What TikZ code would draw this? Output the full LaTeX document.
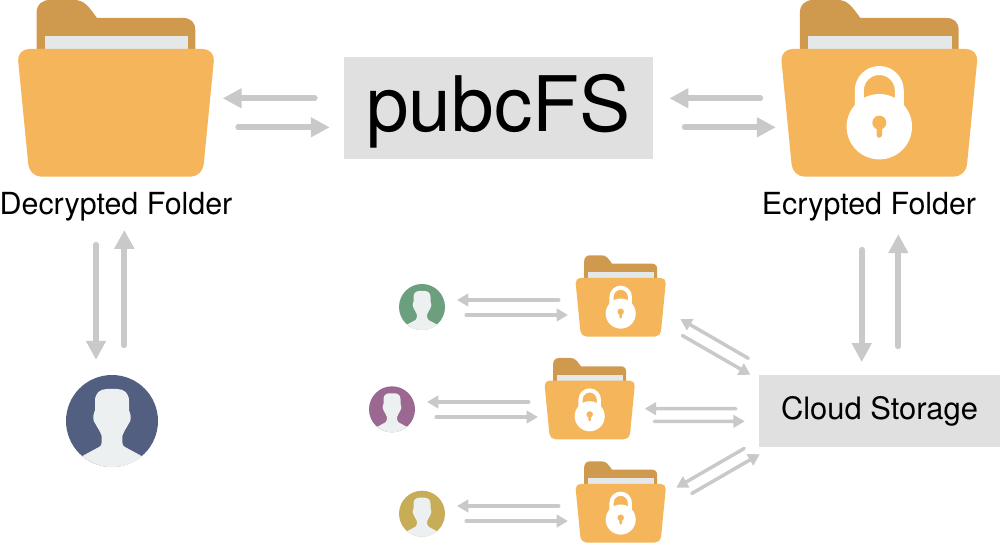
\documentclass[tikz,border=0pt]{standalone}
\usepackage{fontspec}
\setmainfont{TeX Gyre Heros}
\usetikzlibrary{arrows.meta}

\definecolor{foldertab}{HTML}{D09A4E}
\definecolor{folderfront}{HTML}{F5B55B}
\definecolor{paper}{HTML}{E4E8E9}
\definecolor{flowgrey}{HTML}{C9C9C9}
\definecolor{boxgrey}{HTML}{E0E0E0}
\definecolor{skin}{HTML}{ECF0F1}
\definecolor{userblue}{HTML}{535F80}
\definecolor{usergreen}{HTML}{6B9F7E}
\definecolor{userpurple}{HTML}{9A6890}
\definecolor{usergold}{HTML}{C8AD58}

\tikzset{
    bigflow/.style={flowgrey, line width=5.7pt, line cap=round, -{Triangle[length=19pt,width=19pt]}},
    smallflow/.style={flowgrey, line width=3.5pt, line cap=round, -{Triangle[length=11.5pt,width=12.5pt]}},
    greybox/.style={fill=boxgrey, inner sep=0pt},
    caption/.style={inner sep=0pt, anchor=base, font=\fontsize{30.4}{36}\selectfont}
}

\newcommand{\folder}[4]{
    \node[inner sep=0pt, minimum width=#4*196pt, minimum height=#4*177pt] (#1) at (#2,#3) {};
    \begin{scope}[shift={(#2,#3)}, scale=#4]
        \fill[foldertab] (-79.5,-30) -- (-79.5,75) .. controls (-79.5,84) and (-74,88.5) .. (-66,88.5) -- (-42,88.5)
            .. controls (-32,88.5) and (-28,83) .. (-19,70.5) -- (67,70.5) .. controls (75,70.5) and (79.3,66) .. (79.3,58.5) -- (79.3,-30) -- cycle;
        \fill[paper] (-71,52.5) rectangle (72.3,30);
        \fill[folderfront, rounded corners=#4*12pt] (-99,39.5) -- (99,39.5) -- (86.5,-88.2) -- (-86.5,-88.2) -- cycle;
    \end{scope}
}

\newcommand{\lock}[3]{
    \begin{scope}[shift={(#1,#2)}, scale=#3]
        \fill[white] (-24.5,-25) -- (-24.5,-2) arc[start angle=180,end angle=0,radius=24.5] -- (24.5,-25) -- (15.5,-25) -- (15.5,-2) arc[start angle=0,end angle=180,radius=15.5] -- (-15.5,-25) -- cycle;
        \fill[white] (0,-38.2) circle[radius=32.7];
        \fill[folderfront] (0,-34.2) circle[radius=7];
        \fill[folderfront] (-2.75,-34) -- (2.75,-34) -- (2.75,-46.5) arc[start angle=0,end angle=-180,radius=2.75] -- cycle;
    \end{scope}
}

\newcommand{\person}[5]{
    \node[circle, fill=#5, inner sep=0pt, minimum size=#4*92pt] (#1) at (#2,#3) {};
    \begin{scope}[shift={(#2,#3)}, scale=#4]
        \fill[skin] (-30,-35.2) -- (-13,-26) .. controls (-11,-25) and (-10.3,-24) .. (-10.3,-21) -- (-10.3,-15)
            .. controls (-12,-10) and (-15,-6) .. (-16.5,-3) .. controls (-18.5,-1) and (-18.7,1) .. (-18.7,3)
            .. controls (-18.7,7) and (-17.5,9) .. (-17,11) -- (-17,20) .. controls (-17,28) and (-12,32) .. (-5,32)
            -- (5,32) .. controls (12,32) and (17,28) .. (17,20) -- (17,11) .. controls (17.5,9) and (18.7,7) .. (18.7,3)
            .. controls (18.7,1) and (18.5,-1) .. (16.5,-3) .. controls (15,-6) and (12,-10) .. (10.3,-15) -- (10.3,-21)
            .. controls (10.3,-24) and (11,-25) .. (13,-26) -- (30,-35.2) arc[start angle=-49.6,end angle=-130.4,radius=46] -- cycle;
    \end{scope}
}

\begin{document}
\begin{tikzpicture}[x=1pt,y=1pt]
    \useasboundingbox (0,0) rectangle (1000,543);

    \folder{plain}{116}{454.5}{1}
    \folder{enc}{879.3}{454.5}{1}
    \lock{879.3}{454.5}{1}
    \node[caption] (plainlabel) at (116,328) {Decrypted Folder};
    \node[caption] (enclabel) at (869,328) {Ecrypted Folder};

    \node[greybox, minimum width=308.7pt, minimum height=102pt, text height=60pt, text depth=13.2pt, font=\fontsize{76.6}{90}\selectfont] (pubcfs) at (498.3,434.7) {pubcFS};
    \node[greybox, minimum width=241pt, minimum height=71.7pt, text height=23pt, text depth=6pt, font=\fontsize{30.9}{36}\selectfont] (cloud) at (879.5,132.15) {Cloud Storage};

    \person{user}{112}{122}{1}{userblue}
    \person{usera}{422}{236}{.5}{usergreen}
    \person{userb}{392}{133.7}{.5}{userpurple}
    \person{userc}{422}{29.3}{.5}{usergold}

    \folder{foldera}{620.7}{247}{.46}
    \lock{620.7}{247}{.46}
    \folder{folderb}{589.7}{144.3}{.46}
    \lock{589.7}{144.3}{.46}
    \folder{folderc}{620.7}{41}{.46}
    \lock{620.7}{41}{.46}

    \draw[bigflow] ([shift={(-29,10)}]pubcfs.west) -- ([shift={(8.5,-9.8)}]plain.east);
    \draw[bigflow] ([shift={(24,-38.8)}]plain.east) -- ([shift={(-14,-19)}]pubcfs.west);
    \draw[bigflow] ([shift={(-20.8,-9.8)}]enc.west) -- ([shift={(16.6,10)}]pubcfs.east);
    \draw[bigflow] ([shift={(31.8,-19)}]pubcfs.east) -- ([shift={(-5.3,-38.8)}]enc.west);
    \draw[bigflow] ([shift={(-20,-67.5)}]plain.south) -- ([shift={(-16,15)}]user.north);
    \draw[bigflow] ([shift={(12.3,29.5)}]user.north) -- ([shift={(8.3,-52.7)}]plain.south);
    \draw[bigflow] ([shift={(-17.6,-72.5)}]enc.south) -- ([shift={(-17.8,12.7)}]cloud.north);
    \draw[bigflow] ([shift={(18.8,28.5)}]cloud.north) -- ([shift={(19,-57)}]enc.south);

    \draw[smallflow] ([shift={(-16.7,-4)}]foldera.west) -- ([shift={(11.7,7)}]usera.east);
    \draw[smallflow] ([shift={(21,-8)}]usera.east) -- ([shift={(-7.4,-19)}]foldera.west);
    \draw[smallflow] ([shift={(-15.7,-3.3)}]folderb.west) -- ([shift={(11.7,7.3)}]userb.east);
    \draw[smallflow] ([shift={(21,-7.7)}]userb.east) -- ([shift={(-6.4,-18.3)}]folderb.west);
    \draw[smallflow] ([shift={(-16.7,-4)}]folderc.west) -- ([shift={(11.7,7.7)}]userc.east);
    \draw[smallflow] ([shift={(21,-7.3)}]userc.east) -- ([shift={(-7.4,-19)}]folderc.west);

    \draw[smallflow] ([shift={(-23,2.1)}]cloud.west) -- ([shift={(9.6,-10)}]folderb.east);
    \draw[smallflow] ([shift={(19.3,-22.6)}]folderb.east) -- ([shift={(-14,-10.5)}]cloud.west);
    \draw[smallflow] ([shift={(-10.5,16.5)}]cloud.north west) -- ([shift={(14.3,-23)}]foldera.east);
    \draw[smallflow] ([shift={(16.3,-39.5)}]foldera.east) -- ([shift={(-8.3,0)}]cloud.north west);
    \draw[smallflow] ([shift={(-14.5,-1.5)}]cloud.south west) -- ([shift={(10.3,14.3)}]folderc.east);
    \draw[smallflow] ([shift={(25.8,8.5)}]folderc.east) -- ([shift={(1,-7.3)}]cloud.south west);
\end{tikzpicture}
\end{document}
